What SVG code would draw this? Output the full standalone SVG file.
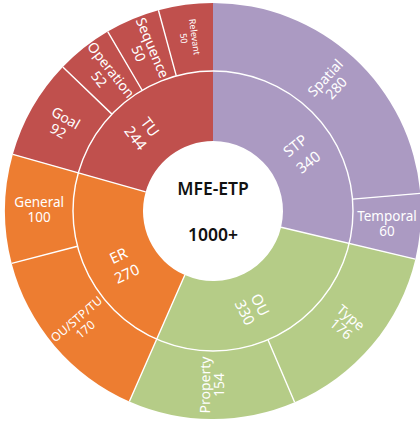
<svg xmlns="http://www.w3.org/2000/svg" width="420" height="423" viewBox="0 0 420 423">
<style>
.tu{fill:#C0504D}.stp{fill:#AB9AC2}.ou{fill:#B5CC87}.er{fill:#ED7D31}
.sep{fill:none;stroke:#fff;stroke-width:1.4}
text{font-family:"Noto Sans","Open Sans","DejaVu Sans",sans-serif;text-anchor:middle}
.lb{fill:#fff;font-size:14px}
.in{fill:#fff;font-size:15px}
.sm{fill:#fff;font-size:9px}
.ctr{fill:#111;font-size:17.5px;font-weight:600}
</style>
<rect width="420" height="423" fill="#fff"/>
<g id="STP">
<path class="stp" d="M213,71 A140,140 0 0 1 349.20,243.39 L281.10,227.20 A70,70 0 0 0 213,141 Z"/>
<text class="in" transform="translate(295.4,145.9) rotate(-38.31)"><tspan x="0" y="5">STP</tspan><tspan x="0" y="26">340</tspan></text>
</g>
<g id="OU">
<path class="ou" d="M349.20,243.39 A140,140 0 0 1 156.70,339.18 L184.85,275.09 A70,70 0 0 0 281.10,227.20 Z"/>
<text class="in" transform="translate(259.8,305.0) rotate(63.55)"><tspan x="0" y="5">OU</tspan><tspan x="0" y="22">330</tspan></text>
</g>
<g id="ER">
<path class="er" d="M156.70,339.18 A140,140 0 0 1 78.30,172.86 L145.65,191.93 A70,70 0 0 0 184.85,275.09 Z"/>
<text class="in" transform="translate(118.5,256.0) rotate(-25.24)"><tspan x="0" y="5">ER</tspan><tspan x="0" y="25">270</tspan></text>
</g>
<g id="TU">
<path class="tu" d="M78.30,172.86 A140,140 0 0 1 213,71 L213,141 A70,70 0 0 0 145.65,191.93 Z"/>
<text class="in" transform="translate(149.7,127.3) rotate(52.91)"><tspan x="0" y="5">TU</tspan><tspan x="0" y="23">244</tspan></text>
</g>
<g id="Spatial">
<path class="stp" d="M213,3 A208,208 0 0 1 420.25,193.36 L352.50,199.13 A140,140 0 0 0 213,71 Z"/>
<text class="lb" transform="translate(330.7,82.9) rotate(-47.43)"><tspan x="0" y="-2.5">Spatial</tspan><tspan x="0" y="12.5">280</tspan></text>
</g>
<g id="Temporal">
<path class="stp" d="M420.25,193.36 A208,208 0 0 1 415.36,259.13 L349.20,243.39 A140,140 0 0 0 352.50,199.13 Z"/>
<text class="lb" style="font-size:13.5px" transform="translate(387,223.5)"><tspan x="0" y="-2.5">Temporal</tspan><tspan x="0" y="12.5">60</tspan></text>
</g>
<g id="Type">
<path class="ou" d="M415.36,259.13 A208,208 0 0 1 294.63,402.31 L267.95,339.77 A140,140 0 0 0 349.20,243.39 Z"/>
<text class="lb" transform="translate(346.1,323.1) rotate(40.14)"><tspan x="0" y="-2.5">Type</tspan><tspan x="0" y="12.5">176</tspan></text>
</g>
<g id="Property">
<path class="ou" d="M294.63,402.31 A208,208 0 0 1 129.35,401.44 L156.70,339.18 A140,140 0 0 0 267.95,339.77 Z"/>
<text class="lb" transform="translate(212.1,385) rotate(-89.7)"><tspan x="0" y="-2">Property</tspan><tspan x="0" y="12">154</tspan></text>
</g>
<g id="OU-STP-TU">
<path class="er" d="M129.35,401.44 A208,208 0 0 1 11.71,263.41 L77.52,246.28 A140,140 0 0 0 156.70,339.18 Z"/>
<text class="lb" style="font-size:12px" transform="translate(80.6,323.9) rotate(-40.44)"><tspan x="0" y="-2">OU/STP/TU</tspan><tspan x="0" y="11.5">170</tspan></text>
</g>
<g id="General">
<path class="er" d="M11.71,263.41 A208,208 0 0 1 12.87,154.33 L78.30,172.86 A140,140 0 0 0 77.52,246.28 Z"/>
<text class="lb" style="font-size:13.5px" transform="translate(39.2,209.2)"><tspan x="0" y="-2.5">General</tspan><tspan x="0" y="12.5">100</tspan></text>
</g>
<g id="Goal">
<path class="tu" d="M12.87,154.33 A208,208 0 0 1 62.83,67.07 L111.93,114.13 A140,140 0 0 0 78.30,172.86 Z"/>
<text class="lb" transform="translate(62,124.5) rotate(29.8)"><tspan x="0" y="-2.5">Goal</tspan><tspan x="0" y="12.5">92</tspan></text>
</g>
<g id="Operation">
<path class="tu" d="M62.83,67.07 A208,208 0 0 1 107.73,31.60 L142.14,90.25 A140,140 0 0 0 111.93,114.13 Z"/>
<text class="lb" transform="translate(105.1,74.5) rotate(51.69)"><tspan x="0" y="-2.5">Operation</tspan><tspan x="0" y="12.5">52</tspan></text>
</g>
<g id="Sequence">
<path class="tu" d="M107.73,31.60 A208,208 0 0 1 158.45,10.28 L176.29,75.90 A140,140 0 0 0 142.14,90.25 Z"/>
<text class="lb" transform="translate(145.6,50.6) rotate(67.2)"><tspan x="0" y="-2.5">Sequence</tspan><tspan x="0" y="12.5">50</tspan></text>
</g>
<g id="Relevant">
<path class="tu" d="M158.45,10.28 A208,208 0 0 1 213,3 L213,71 A140,140 0 0 0 176.29,75.90 Z"/>
<text class="sm" transform="translate(190,37.5) rotate(82.4)"><tspan x="0" y="-1.5">Relevant</tspan><tspan x="0" y="9.5">50</tspan></text>
</g>
<g id="connectors">
<circle class="sep" cx="213" cy="211" r="140"/>
<path class="sep" d="M352.50,199.13 L420.25,193.36 M281.10,227.20 L415.36,259.13 M267.95,339.77 L294.63,402.31 M184.85,275.09 L129.35,401.44 M77.52,246.28 L11.71,263.41 M145.65,191.93 L12.87,154.33 M111.93,114.13 L62.83,67.07 M142.14,90.25 L107.73,31.60 M176.29,75.90 L158.45,10.28"/>
</g>
<g id="center">
<text class="ctr" x="213" y="195">MFE-ETP</text>
<text class="ctr" x="213" y="241">1000+</text>
</g>
</svg>
